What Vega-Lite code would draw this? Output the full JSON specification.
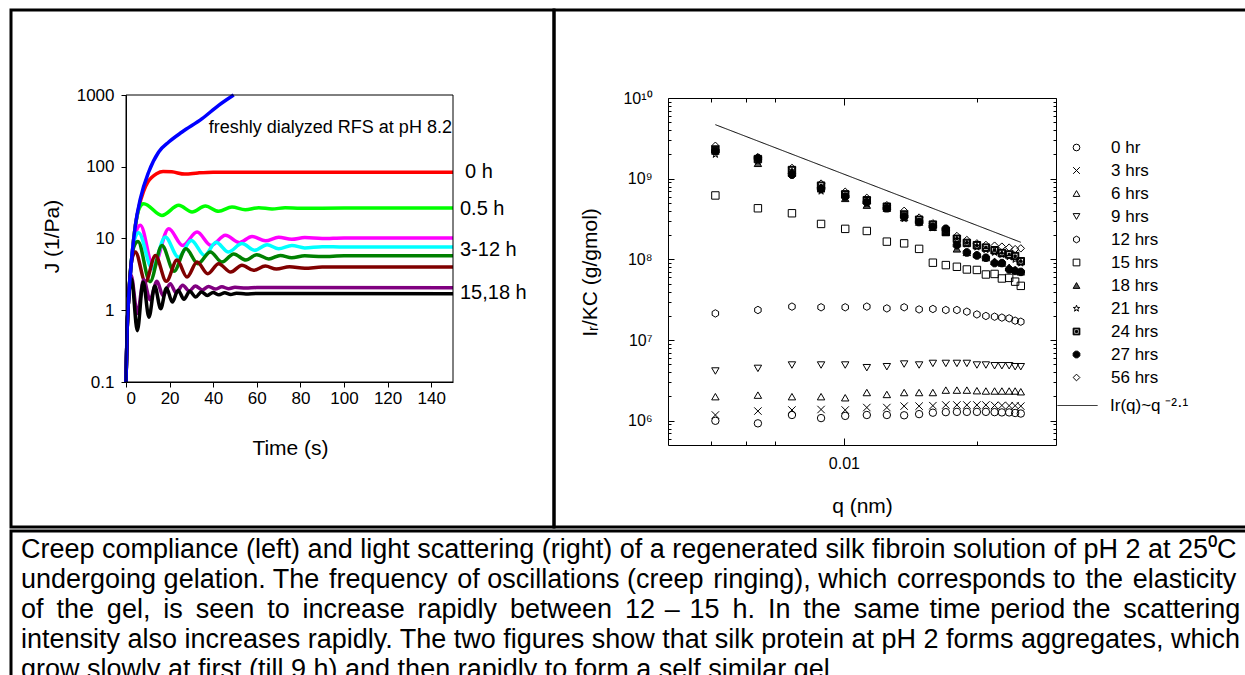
{
  "$schema": "https://vega.github.io/schema/vega-lite/v6.json",
  "background": "white",
  "padding": {"left": 9, "top": 8, "right": 0, "bottom": 0},
  "spacing": 0,
  "config": {
    "font": "Liberation Sans",
    "view": {"stroke": "black", "strokeWidth": 3},
    "axis": {"labelColor": "black", "titleColor": "black", "tickColor": "black", "domainColor": "black", "grid": false, "titleFontWeight": "normal", "labelFont": "Liberation Sans", "titleFont": "Liberation Sans"},
    "legend": {"labelColor": "black", "labelFont": "Liberation Sans"}
  },
  "vconcat": [
    {
      "spacing": 0,
      "bounds": "flush",
      "hconcat": [
        {
          "width": 543,
          "height": 517,
          "data": {"values": [
            {"s":"0 h","t":0,"J":0.1},{"s":"0 h","t":0.5,"J":0.5},{"s":"0 h","t":1.2,"J":1.45},{"s":"0 h","t":2.75,"J":5.8},{"s":"0 h","t":4.3,"J":15},{"s":"0 h","t":6,"J":28},{"s":"0 h","t":8,"J":45},{"s":"0 h","t":10,"J":61},{"s":"0 h","t":12,"J":72},{"s":"0 h","t":14,"J":80},{"s":"0 h","t":17,"J":86},{"s":"0 h","t":21,"J":85},{"s":"0 h","t":27,"J":79},{"s":"0 h","t":33,"J":82},{"s":"0 h","t":40,"J":84},{"s":"0 h","t":60,"J":84},{"s":"0 h","t":100,"J":84},{"s":"0 h","t":150,"J":84},
            {"s":"0.5 h","t":0,"J":0.1},{"s":"0.5 h","t":0.5,"J":0.5},{"s":"0.5 h","t":1.2,"J":1.45},{"s":"0.5 h","t":2.75,"J":5.8},{"s":"0.5 h","t":4.3,"J":15},{"s":"0.5 h","t":6,"J":26},{"s":"0.5 h","t":8.1,"J":30.5},{"s":"0.5 h","t":16.5,"J":21},{"s":"0.5 h","t":24.2,"J":29},{"s":"0.5 h","t":30.3,"J":23.4},{"s":"0.5 h","t":36.4,"J":28.4},{"s":"0.5 h","t":42.5,"J":23.9},{"s":"0.5 h","t":48.6,"J":27.5},{"s":"0.5 h","t":54.7,"J":25.2},{"s":"0.5 h","t":60.9,"J":26.9},{"s":"0.5 h","t":67,"J":25.8},{"s":"0.5 h","t":73,"J":26.8},{"s":"0.5 h","t":80,"J":26.3},{"s":"0.5 h","t":100,"J":26.6},{"s":"0.5 h","t":150,"J":26.6},
            {"s":"3 h","t":0,"J":0.1},{"s":"3 h","t":0.5,"J":0.5},{"s":"3 h","t":1.2,"J":1.45},{"s":"3 h","t":2.75,"J":5.8},{"s":"3 h","t":4.5,"J":12},{"s":"3 h","t":6.6,"J":15.3},{"s":"3 h","t":12.5,"J":4},{"s":"3 h","t":19.6,"J":13.7},{"s":"3 h","t":26,"J":8},{"s":"3 h","t":32.6,"J":12.3},{"s":"3 h","t":39,"J":8},{"s":"3 h","t":45.6,"J":11.1},{"s":"3 h","t":52,"J":8.75},{"s":"3 h","t":57.8,"J":10.7},{"s":"3 h","t":64,"J":9.3},{"s":"3 h","t":70,"J":10.4},{"s":"3 h","t":76,"J":9.75},{"s":"3 h","t":82,"J":10.3},{"s":"3 h","t":90,"J":10},{"s":"3 h","t":100,"J":10.2},{"s":"3 h","t":150,"J":10.2},
            {"s":"6 h","t":0,"J":0.1},{"s":"6 h","t":0.5,"J":0.5},{"s":"6 h","t":1.2,"J":1.45},{"s":"6 h","t":2.75,"J":5.8},{"s":"6 h","t":4.3,"J":10.5},{"s":"6 h","t":5.8,"J":12},{"s":"6 h","t":12,"J":3.8},{"s":"6 h","t":18,"J":10.5},{"s":"6 h","t":24,"J":5.5},{"s":"6 h","t":30,"J":9.4},{"s":"6 h","t":36,"J":5.8},{"s":"6 h","t":41.3,"J":8.9},{"s":"6 h","t":47,"J":6.5},{"s":"6 h","t":53.2,"J":8.5},{"s":"6 h","t":59,"J":6.85},{"s":"6 h","t":64.7,"J":8.2},{"s":"6 h","t":70,"J":7.2},{"s":"6 h","t":76.1,"J":8},{"s":"6 h","t":82,"J":7.4},{"s":"6 h","t":90,"J":7.7},{"s":"6 h","t":100,"J":7.6},{"s":"6 h","t":150,"J":7.6},
            {"s":"9 h","t":0,"J":0.1},{"s":"9 h","t":0.5,"J":0.5},{"s":"9 h","t":1.2,"J":1.45},{"s":"9 h","t":2.75,"J":5.8},{"s":"9 h","t":4,"J":8.2},{"s":"9 h","t":5.5,"J":9.1},{"s":"9 h","t":11,"J":2.5},{"s":"9 h","t":16.5,"J":8},{"s":"9 h","t":22,"J":3.5},{"s":"9 h","t":27.5,"J":7.2},{"s":"9 h","t":33,"J":4.45},{"s":"9 h","t":38.7,"J":6.5},{"s":"9 h","t":44,"J":4.7},{"s":"9 h","t":49.4,"J":6.1},{"s":"9 h","t":55,"J":5},{"s":"9 h","t":60,"J":5.95},{"s":"9 h","t":65.5,"J":5.2},{"s":"9 h","t":70.8,"J":5.8},{"s":"9 h","t":76,"J":5.4},{"s":"9 h","t":82,"J":5.75},{"s":"9 h","t":90,"J":5.6},{"s":"9 h","t":100,"J":5.75},{"s":"9 h","t":150,"J":5.75},
            {"s":"12 h","t":0,"J":0.1},{"s":"12 h","t":0.5,"J":0.5},{"s":"12 h","t":1.2,"J":1.45},{"s":"12 h","t":2.75,"J":5.2},{"s":"12 h","t":4.3,"J":6.5},{"s":"12 h","t":8.9,"J":2.48},{"s":"12 h","t":13.5,"J":5.8},{"s":"12 h","t":18.5,"J":2.53},{"s":"12 h","t":23.4,"J":5},{"s":"12 h","t":28,"J":2.9},{"s":"12 h","t":32.6,"J":4.7},{"s":"12 h","t":37.5,"J":3.23},{"s":"12 h","t":42.5,"J":4.45},{"s":"12 h","t":48,"J":3.41},{"s":"12 h","t":53.2,"J":4.24},{"s":"12 h","t":58.5,"J":3.6},{"s":"12 h","t":63.9,"J":4.14},{"s":"12 h","t":69,"J":3.75},{"s":"12 h","t":75,"J":4.05},{"s":"12 h","t":82,"J":3.85},{"s":"12 h","t":90,"J":4},{"s":"12 h","t":150,"J":4},
            {"s":"15 h","t":0,"J":0.1},{"s":"15 h","t":0.5,"J":0.5},{"s":"15 h","t":1.2,"J":1.45},{"s":"15 h","t":2.3,"J":3.1},{"s":"15 h","t":5.2,"J":0.9},{"s":"15 h","t":8.1,"J":2.67},{"s":"15 h","t":11,"J":1.4},{"s":"15 h","t":14.2,"J":2.53},{"s":"15 h","t":17,"J":1.6},{"s":"15 h","t":20.3,"J":2.34},{"s":"15 h","t":23,"J":1.75},{"s":"15 h","t":26,"J":2.23},{"s":"15 h","t":29,"J":1.85},{"s":"15 h","t":31.8,"J":2.18},{"s":"15 h","t":35,"J":1.92},{"s":"15 h","t":37.9,"J":2.15},{"s":"15 h","t":41,"J":1.97},{"s":"15 h","t":44,"J":2.12},{"s":"15 h","t":47,"J":2},{"s":"15 h","t":50,"J":2.09},{"s":"15 h","t":55,"J":2.04},{"s":"15 h","t":60,"J":2.07},{"s":"15 h","t":150,"J":2.06},
            {"s":"18 h","t":0,"J":0.1},{"s":"18 h","t":0.5,"J":0.5},{"s":"18 h","t":1.2,"J":1.45},{"s":"18 h","t":2.5,"J":2.75},{"s":"18 h","t":5.2,"J":0.52},{"s":"18 h","t":7.85,"J":2.48},{"s":"18 h","t":10.55,"J":0.8},{"s":"18 h","t":13.2,"J":2.18},{"s":"18 h","t":15.9,"J":1.05},{"s":"18 h","t":18.55,"J":2.04},{"s":"18 h","t":21.25,"J":1.3},{"s":"18 h","t":23.9,"J":1.9},{"s":"18 h","t":26.6,"J":1.42},{"s":"18 h","t":29.25,"J":1.84},{"s":"18 h","t":31.95,"J":1.53},{"s":"18 h","t":34.6,"J":1.8},{"s":"18 h","t":37.3,"J":1.61},{"s":"18 h","t":39.95,"J":1.77},{"s":"18 h","t":42.65,"J":1.64},{"s":"18 h","t":45.3,"J":1.75},{"s":"18 h","t":48,"J":1.66},{"s":"18 h","t":50.65,"J":1.73},{"s":"18 h","t":55,"J":1.69},{"s":"18 h","t":60,"J":1.71},{"s":"18 h","t":150,"J":1.7},
            {"s":"pH 8.2","t":0,"J":0.1},{"s":"pH 8.2","t":0.46,"J":0.5},{"s":"pH 8.2","t":1.2,"J":1.45},{"s":"pH 8.2","t":2.75,"J":5.8},{"s":"pH 8.2","t":4.3,"J":15.3},{"s":"pH 8.2","t":6.6,"J":35.9},{"s":"pH 8.2","t":10.4,"J":84.5},{"s":"pH 8.2","t":15,"J":161},{"s":"pH 8.2","t":19.6,"J":221},{"s":"pH 8.2","t":25.7,"J":305},{"s":"pH 8.2","t":34.9,"J":468},{"s":"pH 8.2","t":42.5,"J":718},{"s":"pH 8.2","t":49.4,"J":1000}
          ]},
          "layer": [
            {
              "mark": {"type": "line", "interpolate": "monotone", "strokeWidth": 3.5},
              "encoding": {
                "x": {"field": "t", "type": "quantitative",
                  "scale": {"domain": [0, 150], "range": [115, 442], "nice": false, "zero": false},
                  "axis": {"orient": "bottom", "offset": -145, "values": [0, 20, 40, 60, 80, 100, 120, 140], "labelFontSize": 17, "tickSize": 5, "labelPadding": 3, "domainWidth": 1, "title": "Time (s)", "titleFontSize": 21, "titleX": 279, "titleY": 66, "titleBaseline": "middle"}},
                "y": {"field": "J", "type": "quantitative",
                  "scale": {"type": "log", "domain": [0.1, 1000], "range": [372, 85], "nice": false},
                  "axis": {"orient": "left", "offset": -115, "values": [0.1, 1, 10, 100, 1000], "labelExpr": "datum.value < 0.5 ? '0.1' : format(datum.value, 'd')", "labelFontSize": 17, "tickSize": 5, "labelPadding": 7, "domainWidth": 1, "title": "J (1/Pa)", "titleFontSize": 21, "titleAngle": -90, "titleX": -74, "titleY": 226, "titleBaseline": "middle", "titleAlign": "center"}},
                "color": {"field": "s", "type": "nominal", "legend": null,
                  "scale": {"domain": ["0 h", "0.5 h", "3 h", "6 h", "9 h", "12 h", "15 h", "18 h", "pH 8.2"],
                            "range": ["#ff0000", "#00ff00", "#ff00ff", "#00ffff", "#008000", "#800000", "#800080", "#000000", "#0000ff"]}}
              }
            },
            {
              "data": {"values": [{}]},
              "mark": {"type": "rect", "fill": "transparent", "stroke": "black", "strokeWidth": 1},
              "encoding": {
                "x": {"datum": 0, "type": "quantitative"},
                "x2": {"datum": 150},
                "y": {"datum": 0.1, "type": "quantitative"},
                "y2": {"datum": 1000}
              }
            },
            {
              "data": {"values": [
                {"label": "0 h", "t": 155.5, "J": 84},
                {"label": "0.5 h", "t": 153.2, "J": 25.8},
                {"label": "3-12 h", "t": 153.2, "J": 6.9},
                {"label": "15,18 h", "t": 153.2, "J": 1.74}
              ]},
              "mark": {"type": "text", "align": "left", "baseline": "middle", "fontSize": 20, "color": "black"},
              "encoding": {
                "x": {"field": "t", "type": "quantitative"},
                "y": {"field": "J", "type": "quantitative"},
                "text": {"field": "label"}
              }
            },
            {
              "data": {"values": [{"label": "freshly dialyzed RFS at pH 8.2", "t": 149.5, "J": 347}]},
              "mark": {"type": "text", "align": "right", "baseline": "middle", "fontSize": 18, "color": "black"},
              "encoding": {
                "x": {"field": "t", "type": "quantitative"},
                "y": {"field": "J", "type": "quantitative"},
                "text": {"field": "label"}
              }
            }
          ]
        },
        {
          "width": 700,
          "height": 517,
          "resolve": {"axis": {"x": "independent", "y": "independent"}},
          "layer": [
            {
              "data": {"values": [
                {"s":"0 hr","q":0.00512,"I":1.0e6},{"s":"0 hr","q":0.00639,"I":0.93e6},{"s":"0 hr","q":0.00763,"I":1.18e6},{"s":"0 hr","q":0.00888,"I":1.08e6},{"s":"0 hr","q":0.01007,"I":1.15e6},{"s":"0 hr","q":0.01127,"I":1.18e6},{"s":"0 hr","q":0.01251,"I":1.18e6},{"s":"0 hr","q":0.01369,"I":1.17e6},{"s":"0 hr","q":0.0148,"I":1.21e6},{"s":"0 hr","q":0.0159,"I":1.26e6},{"s":"0 hr","q":0.01701,"I":1.28e6},{"s":"0 hr","q":0.01802,"I":1.29e6},{"s":"0 hr","q":0.01898,"I":1.29e6},{"s":"0 hr","q":0.02,"I":1.29e6},{"s":"0 hr","q":0.02096,"I":1.29e6},{"s":"0 hr","q":0.02193,"I":1.28e6},{"s":"0 hr","q":0.02278,"I":1.27e6},{"s":"0 hr","q":0.02366,"I":1.27e6},{"s":"0 hr","q":0.02441,"I":1.25e6},{"s":"0 hr","q":0.02514,"I":1.23e6},
                {"s":"3 hrs","q":0.00512,"I":1.18e6},{"s":"3 hrs","q":0.00639,"I":1.32e6},{"s":"3 hrs","q":0.00763,"I":1.36e6},{"s":"3 hrs","q":0.00888,"I":1.38e6},{"s":"3 hrs","q":0.01007,"I":1.36e6},{"s":"3 hrs","q":0.01127,"I":1.46e6},{"s":"3 hrs","q":0.01251,"I":1.46e6},{"s":"3 hrs","q":0.01369,"I":1.52e6},{"s":"3 hrs","q":0.0148,"I":1.52e6},{"s":"3 hrs","q":0.0159,"I":1.54e6},{"s":"3 hrs","q":0.01701,"I":1.57e6},{"s":"3 hrs","q":0.01802,"I":1.57e6},{"s":"3 hrs","q":0.01898,"I":1.57e6},{"s":"3 hrs","q":0.02,"I":1.57e6},{"s":"3 hrs","q":0.02096,"I":1.57e6},{"s":"3 hrs","q":0.02193,"I":1.55e6},{"s":"3 hrs","q":0.02278,"I":1.55e6},{"s":"3 hrs","q":0.02366,"I":1.54e6},{"s":"3 hrs","q":0.02441,"I":1.54e6},{"s":"3 hrs","q":0.02514,"I":1.52e6},
                {"s":"6 hrs","q":0.00512,"I":1.99e6},{"s":"6 hrs","q":0.00639,"I":2.08e6},{"s":"6 hrs","q":0.00763,"I":1.99e6},{"s":"6 hrs","q":0.00888,"I":1.99e6},{"s":"6 hrs","q":0.01007,"I":1.93e6},{"s":"6 hrs","q":0.01127,"I":2.24e6},{"s":"6 hrs","q":0.01251,"I":2.12e6},{"s":"6 hrs","q":0.01369,"I":2.24e6},{"s":"6 hrs","q":0.0148,"I":2.24e6},{"s":"6 hrs","q":0.0159,"I":2.24e6},{"s":"6 hrs","q":0.01701,"I":2.4e6},{"s":"6 hrs","q":0.01802,"I":2.4e6},{"s":"6 hrs","q":0.01898,"I":2.4e6},{"s":"6 hrs","q":0.02,"I":2.36e6},{"s":"6 hrs","q":0.02096,"I":2.34e6},{"s":"6 hrs","q":0.02193,"I":2.34e6},{"s":"6 hrs","q":0.02278,"I":2.34e6},{"s":"6 hrs","q":0.02366,"I":2.34e6},{"s":"6 hrs","q":0.02441,"I":2.34e6},{"s":"6 hrs","q":0.02514,"I":2.29e6},
                {"s":"9 hrs","q":0.00512,"I":4.14e6},{"s":"9 hrs","q":0.00639,"I":4.46e6},{"s":"9 hrs","q":0.00763,"I":4.91e6},{"s":"9 hrs","q":0.00888,"I":4.91e6},{"s":"9 hrs","q":0.01007,"I":4.91e6},{"s":"9 hrs","q":0.01127,"I":4.55e6},{"s":"9 hrs","q":0.01251,"I":4.68e6},{"s":"9 hrs","q":0.01369,"I":5.05e6},{"s":"9 hrs","q":0.0148,"I":4.91e6},{"s":"9 hrs","q":0.0159,"I":5.14e6},{"s":"9 hrs","q":0.01701,"I":5.14e6},{"s":"9 hrs","q":0.01802,"I":5.14e6},{"s":"9 hrs","q":0.01898,"I":5.14e6},{"s":"9 hrs","q":0.02,"I":4.91e6},{"s":"9 hrs","q":0.02096,"I":4.91e6},{"s":"9 hrs","q":0.02193,"I":4.81e6},{"s":"9 hrs","q":0.02278,"I":4.81e6},{"s":"9 hrs","q":0.02366,"I":4.81e6},{"s":"9 hrs","q":0.02441,"I":4.68e6},{"s":"9 hrs","q":0.02514,"I":4.68e6},
                {"s":"12 hrs","q":0.00512,"I":2.14e7},{"s":"12 hrs","q":0.00639,"I":2.36e7},{"s":"12 hrs","q":0.00763,"I":2.6e7},{"s":"12 hrs","q":0.00888,"I":2.55e7},{"s":"12 hrs","q":0.01007,"I":2.55e7},{"s":"12 hrs","q":0.01127,"I":2.6e7},{"s":"12 hrs","q":0.01251,"I":2.47e7},{"s":"12 hrs","q":0.01369,"I":2.55e7},{"s":"12 hrs","q":0.0148,"I":2.4e7},{"s":"12 hrs","q":0.0159,"I":2.43e7},{"s":"12 hrs","q":0.01701,"I":2.36e7},{"s":"12 hrs","q":0.01802,"I":2.36e7},{"s":"12 hrs","q":0.01898,"I":2.25e7},{"s":"12 hrs","q":0.02,"I":2.08e7},{"s":"12 hrs","q":0.02096,"I":1.99e7},{"s":"12 hrs","q":0.02193,"I":1.95e7},{"s":"12 hrs","q":0.02278,"I":1.9e7},{"s":"12 hrs","q":0.02366,"I":1.86e7},{"s":"12 hrs","q":0.02441,"I":1.74e7},{"s":"12 hrs","q":0.02514,"I":1.69e7},
                {"s":"15 hrs","q":0.00512,"I":6.2e8},{"s":"15 hrs","q":0.00639,"I":4.3e8},{"s":"15 hrs","q":0.00763,"I":3.73e8},{"s":"15 hrs","q":0.00888,"I":2.75e8},{"s":"15 hrs","q":0.01007,"I":2.39e8},{"s":"15 hrs","q":0.01127,"I":2.25e8},{"s":"15 hrs","q":0.01251,"I":1.66e8},{"s":"15 hrs","q":0.01369,"I":1.58e8},{"s":"15 hrs","q":0.0148,"I":1.35e8},{"s":"15 hrs","q":0.0159,"I":9.1e7},{"s":"15 hrs","q":0.01701,"I":8.5e7},{"s":"15 hrs","q":0.01802,"I":8.1e7},{"s":"15 hrs","q":0.01898,"I":7.5e7},{"s":"15 hrs","q":0.02,"I":7.4e7},{"s":"15 hrs","q":0.02096,"I":6.5e7},{"s":"15 hrs","q":0.02193,"I":6.6e7},{"s":"15 hrs","q":0.02278,"I":5.8e7},{"s":"15 hrs","q":0.02366,"I":5.9e7},{"s":"15 hrs","q":0.02441,"I":5.3e7},{"s":"15 hrs","q":0.02514,"I":4.7e7},
                {"s":"18 hrs","q":0.00512,"I":2.2e9},{"s":"18 hrs","q":0.00639,"I":1.55e9},{"s":"18 hrs","q":0.00763,"I":1.18e9},{"s":"18 hrs","q":0.00888,"I":7.5e8},{"s":"18 hrs","q":0.01007,"I":5.7e8},{"s":"18 hrs","q":0.01127,"I":4.7e8},{"s":"18 hrs","q":0.01251,"I":4.3e8},{"s":"18 hrs","q":0.01369,"I":3.3e8},{"s":"18 hrs","q":0.0148,"I":2.9e8},{"s":"18 hrs","q":0.0159,"I":2.5e8},{"s":"18 hrs","q":0.01701,"I":2.15e8},{"s":"18 hrs","q":0.01802,"I":1.35e8},{"s":"18 hrs","q":0.01898,"I":1.22e8},{"s":"18 hrs","q":0.02,"I":1.15e8},{"s":"18 hrs","q":0.02096,"I":1.05e8},{"s":"18 hrs","q":0.02193,"I":9.5e7},{"s":"18 hrs","q":0.02278,"I":9.0e7},{"s":"18 hrs","q":0.02366,"I":8.0e7},{"s":"18 hrs","q":0.02441,"I":7.5e7},{"s":"18 hrs","q":0.02514,"I":7.0e7},
                {"s":"21 hrs","q":0.00512,"I":2.0e9},{"s":"21 hrs","q":0.00639,"I":1.65e9},{"s":"21 hrs","q":0.00763,"I":1.2e9},{"s":"21 hrs","q":0.00888,"I":7.0e8},{"s":"21 hrs","q":0.01007,"I":5.9e8},{"s":"21 hrs","q":0.01127,"I":4.9e8},{"s":"21 hrs","q":0.01251,"I":4.2e8},{"s":"21 hrs","q":0.01369,"I":3.2e8},{"s":"21 hrs","q":0.0148,"I":2.9e8},{"s":"21 hrs","q":0.0159,"I":2.45e8},{"s":"21 hrs","q":0.01701,"I":2.2e8},{"s":"21 hrs","q":0.01802,"I":1.75e8},{"s":"21 hrs","q":0.01898,"I":1.55e8},{"s":"21 hrs","q":0.02,"I":1.42e8},{"s":"21 hrs","q":0.02096,"I":1.32e8},{"s":"21 hrs","q":0.02193,"I":1.22e8},{"s":"21 hrs","q":0.02278,"I":1.15e8},{"s":"21 hrs","q":0.02366,"I":1.08e8},{"s":"21 hrs","q":0.02441,"I":1.0e8},{"s":"21 hrs","q":0.02514,"I":9.0e7},
                {"s":"24 hrs","q":0.00512,"I":2.3e9},{"s":"24 hrs","q":0.00639,"I":1.75e9},{"s":"24 hrs","q":0.00763,"I":1.28e9},{"s":"24 hrs","q":0.00888,"I":8.2e8},{"s":"24 hrs","q":0.01007,"I":6.4e8},{"s":"24 hrs","q":0.01127,"I":5.4e8},{"s":"24 hrs","q":0.01251,"I":4.5e8},{"s":"24 hrs","q":0.01369,"I":3.6e8},{"s":"24 hrs","q":0.0148,"I":3.1e8},{"s":"24 hrs","q":0.0159,"I":2.7e8},{"s":"24 hrs","q":0.01701,"I":2.2e8},{"s":"24 hrs","q":0.01802,"I":1.8e8},{"s":"24 hrs","q":0.01898,"I":1.6e8},{"s":"24 hrs","q":0.02,"I":1.5e8},{"s":"24 hrs","q":0.02096,"I":1.4e8},{"s":"24 hrs","q":0.02193,"I":1.3e8},{"s":"24 hrs","q":0.02278,"I":1.2e8},{"s":"24 hrs","q":0.02366,"I":1.15e8},{"s":"24 hrs","q":0.02441,"I":1.1e8},{"s":"24 hrs","q":0.02514,"I":9.5e7},
                {"s":"27 hrs","q":0.00512,"I":2.2e9},{"s":"27 hrs","q":0.00639,"I":1.8e9},{"s":"27 hrs","q":0.00763,"I":1.12e9},{"s":"27 hrs","q":0.00888,"I":7.5e8},{"s":"27 hrs","q":0.01007,"I":6.0e8},{"s":"27 hrs","q":0.01127,"I":5.1e8},{"s":"27 hrs","q":0.01251,"I":4.3e8},{"s":"27 hrs","q":0.01369,"I":3.4e8},{"s":"27 hrs","q":0.0148,"I":2.9e8},{"s":"27 hrs","q":0.0159,"I":2.55e8},{"s":"27 hrs","q":0.01701,"I":2.4e8},{"s":"27 hrs","q":0.01802,"I":1.5e8},{"s":"27 hrs","q":0.01898,"I":1.22e8},{"s":"27 hrs","q":0.02,"I":1.12e8},{"s":"27 hrs","q":0.02096,"I":1.05e8},{"s":"27 hrs","q":0.02193,"I":9.0e7},{"s":"27 hrs","q":0.02278,"I":9.0e7},{"s":"27 hrs","q":0.02366,"I":7.5e7},{"s":"27 hrs","q":0.02441,"I":7.2e7},{"s":"27 hrs","q":0.02514,"I":7.0e7},
                {"s":"56 hrs","q":0.00512,"I":2.56e9},{"s":"56 hrs","q":0.00639,"I":1.85e9},{"s":"56 hrs","q":0.00763,"I":1.36e9},{"s":"56 hrs","q":0.00888,"I":8.7e8},{"s":"56 hrs","q":0.01007,"I":6.9e8},{"s":"56 hrs","q":0.01127,"I":5.8e8},{"s":"56 hrs","q":0.01251,"I":4.7e8},{"s":"56 hrs","q":0.01369,"I":4.0e8},{"s":"56 hrs","q":0.0148,"I":3.3e8},{"s":"56 hrs","q":0.0159,"I":2.8e8},{"s":"56 hrs","q":0.01701,"I":2.26e8},{"s":"56 hrs","q":0.01802,"I":1.95e8},{"s":"56 hrs","q":0.01898,"I":1.74e8},{"s":"56 hrs","q":0.02,"I":1.58e8},{"s":"56 hrs","q":0.02096,"I":1.51e8},{"s":"56 hrs","q":0.02193,"I":1.48e8},{"s":"56 hrs","q":0.02278,"I":1.44e8},{"s":"56 hrs","q":0.02366,"I":1.4e8},{"s":"56 hrs","q":0.02441,"I":1.34e8},{"s":"56 hrs","q":0.02514,"I":1.37e8}
              ]},
              "mark": {"type": "point", "size": 55, "strokeWidth": 1, "opacity": 1},
              "encoding": {
                "x": {"field": "q", "type": "quantitative",
                  "scale": {"type": "log", "domain": [0.004, 0.0302], "range": [114, 502], "nice": false},
                  "axis": {"orient": "bottom", "offset": -82, "values": [0.005, 0.006, 0.007, 0.01, 0.02], "labelExpr": "datum.value == 0.01 ? '0.01' : ''", "labelFontSize": 16, "tickSize": {"condition": {"test": "datum.value == 0.01", "value": -7}, "value": -4}, "labelPadding": 17, "domainWidth": 1, "title": "q (nm)", "titleFontSize": 21, "titleX": 308, "titleY": 61, "titleBaseline": "middle"}},
                "y": {"field": "I", "type": "quantitative",
                  "scale": {"type": "log", "domain": [501187, 1e10], "range": [435, 88], "nice": false},
                  "axis": {"orient": "left", "offset": -114,
                    "values": [600000, 700000, 800000, 900000, 1e6, 2e6, 3e6, 4e6, 5e6, 6e6, 7e6, 8e6, 9e6, 1e7, 2e7, 3e7, 4e7, 5e7, 6e7, 7e7, 8e7, 9e7, 1e8, 2e8, 3e8, 4e8, 5e8, 6e8, 7e8, 8e8, 9e8, 1e9, 2e9, 3e9, 4e9, 5e9, 6e9, 7e9, 8e9, 9e9, 1e10],
                    "labelExpr": "datum.value == 1e6 ? '10⁶' : datum.value == 1e7 ? '10⁷' : datum.value == 1e8 ? '10⁸' : datum.value == 1e9 ? '10⁹' : datum.value == 1e10 ? '10¹⁰' : ''",
                    "labelFontSize": 16, "tickSize": {"condition": {"test": "indexof([1e6, 1e7, 1e8, 1e9, 1e10], datum.value) >= 0", "value": -6}, "value": -3}, "labelPadding": 22, "domainWidth": 1,
                    "title": "Iᵣ/KC (g/gmol)", "titleFontSize": 21, "titleAngle": -90, "titleX": -78, "titleY": 262, "titleBaseline": "middle", "titleAlign": "center"}},
                "shape": {"field": "s", "type": "nominal",
                  "scale": {"domain": ["0 hr", "3 hrs", "6 hrs", "9 hrs", "12 hrs", "15 hrs", "18 hrs", "21 hrs", "24 hrs", "27 hrs", "56 hrs"],
                    "range": ["circle", "M-1,-1L1,1M1,-1L-1,1", "triangle-up", "triangle-down", "M0,-1L0.87,-0.5L0.87,0.5L0,1L-0.87,0.5L-0.87,-0.5Z", "square", "triangle-up", "M0,-1L0.235,-0.324L0.951,-0.309L0.38,0.124L0.588,0.809L0,0.4L-0.588,0.809L-0.38,0.124L-0.951,-0.309L-0.235,-0.324Z", "M-1,-1H1V1H-1Z M-0.75,-0.75V0.75H0.75V-0.75Z M-0.3,-0.3H0.3V0.3H-0.3Z", "M-0.4,-1L0.4,-1L1,-0.4L1,0.4L0.4,1L-0.4,1L-1,0.4L-1,-0.4Z", "diamond"]},
                  "legend": {"orient": "none", "legendX": 1057, "legendY": 129, "title": null, "labelFontSize": 17, "symbolSize": 45, "symbolStrokeWidth": 1, "labelOffset": 26, "rowPadding": 5}},
                "fill": {"field": "s", "type": "nominal",
                  "scale": {"domain": ["0 hr", "3 hrs", "6 hrs", "9 hrs", "12 hrs", "15 hrs", "18 hrs", "21 hrs", "24 hrs", "27 hrs", "56 hrs"],
                    "range": ["transparent", "transparent", "transparent", "transparent", "transparent", "transparent", "#555555", "transparent", "black", "black", "transparent"]},
                  "legend": {"orient": "none", "legendX": 1057, "legendY": 129, "title": null, "labelFontSize": 17, "symbolSize": 45, "symbolStrokeWidth": 1, "labelOffset": 26, "rowPadding": 5}},
                "stroke": {"field": "s", "type": "nominal",
                  "scale": {"domain": ["0 hr", "3 hrs", "6 hrs", "9 hrs", "12 hrs", "15 hrs", "18 hrs", "21 hrs", "24 hrs", "27 hrs", "56 hrs"],
                    "range": ["black", "black", "black", "black", "black", "black", "black", "black", "black", "black", "black"]},
                  "legend": {"orient": "none", "legendX": 1057, "legendY": 129, "title": null, "labelFontSize": 17, "symbolSize": 45, "symbolStrokeWidth": 1, "labelOffset": 26, "rowPadding": 5}}
              }
            },
            {
              "data": {"values": [
                {"fit": "Ir(q)~q^-2.1", "q": 0.00512, "I": 4.67e9},
                {"fit": "Ir(q)~q^-2.1", "q": 0.02514, "I": 1.63e8}
              ]},
              "mark": {"type": "line", "strokeWidth": 1, "color": "black"},
              "encoding": {
                "x": {"field": "q", "type": "quantitative",
                  "axis": {"orient": "top", "offset": -88, "values": [0.005, 0.006, 0.007, 0.01, 0.02], "labels": false, "title": null, "domainWidth": 1, "tickSize": {"condition": {"test": "datum.value == 0.01", "value": -7}, "value": -4}}},
                "y": {"field": "I", "type": "quantitative",
                  "axis": {"orient": "right", "offset": -198, "labels": false, "title": null, "domainWidth": 1,
                    "values": [600000, 700000, 800000, 900000, 1e6, 2e6, 3e6, 4e6, 5e6, 6e6, 7e6, 8e6, 9e6, 1e7, 2e7, 3e7, 4e7, 5e7, 6e7, 7e7, 8e7, 9e7, 1e8, 2e8, 3e8, 4e8, 5e8, 6e8, 7e8, 8e8, 9e8, 1e9, 2e9, 3e9, 4e9, 5e9, 6e9, 7e9, 8e9, 9e9, 1e10],
                    "tickSize": {"condition": {"test": "indexof([1e6, 1e7, 1e8, 1e9, 1e10], datum.value) >= 0", "value": -6}, "value": -3}}},
                "strokeDash": {"field": "fit", "type": "nominal", "scale": {"range": [[1, 0]]},
                  "legend": {"orient": "none", "legendX": 1046, "legendY": 375, "title": null, "labelFontSize": 17, "symbolType": "stroke", "symbolSize": 1600, "symbolStrokeWidth": 1, "symbolStrokeColor": "black", "labelOffset": 12, "labelExpr": "'Ir(q)~q ⁻²·¹'"}}
              }
            }
          ]
        }
      ]
    },
    {
      "width": 1243,
      "height": 160,
      "data": {"values": [
        {"line": 1, "text": "Creep compliance (left) and light scattering (right) of a regenerated silk fibroin solution of pH 2 at 25⁰C"},
        {"line": 2, "text": "undergoing gelation. The \u200afrequency \u200aof oscillations (creep \u200aringing), which \u200acorresponds to \u200athe \u200aelasticity"},
        {"line": 3, "text": "of \u2009the \u2009gel, \u2009is \u2009seen \u2009to \u2009increase \u2009rapidly \u2009between \u200912 \u200a– \u200a15 \u2009h. \u2009In \u2009the \u2009same \u200atime \u200aperiod the \u2009scattering"},
        {"line": 4, "text": "intensity also increases rapidly. The two figures show that silk protein at pH 2 forms aggregates, which"},
        {"line": 5, "text": "grow slowly at first (till 9 h) and then rapidly to form a self similar gel."}
      ]},
      "mark": {"type": "text", "align": "left", "baseline": "middle", "fontSize": 27, "dx": 10, "color": "black"},
      "encoding": {
        "x": {"datum": 0, "type": "quantitative", "scale": {"domain": [0, 1]}, "axis": null},
        "y": {"field": "line", "type": "quantitative", "scale": {"domain": [0.367, 5.7], "reverse": true, "nice": false, "zero": false}, "axis": null},
        "text": {"field": "text"}
      }
    }
  ]
}
